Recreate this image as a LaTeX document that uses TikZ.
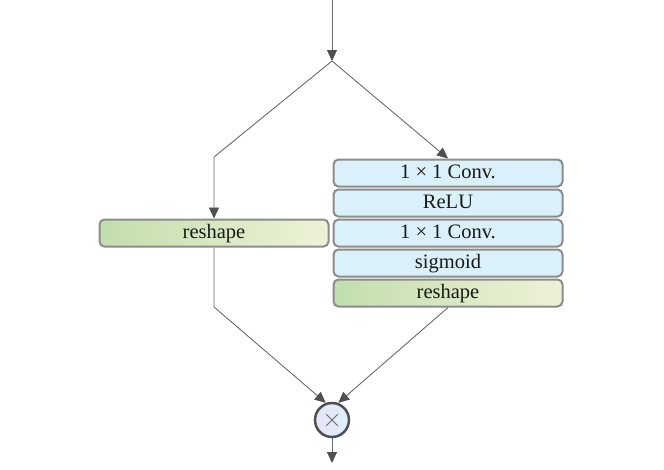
\documentclass[tikz,border=0pt]{standalone}
\usepackage{fontspec}
\setmainfont{Liberation Serif}
\usetikzlibrary{arrows.meta}
\definecolor{linec}{HTML}{6A6A6A}
\definecolor{tipc}{HTML}{505050}
\definecolor{boxborder}{HTML}{8C8C8C}
\definecolor{bluefill}{HTML}{DAF0FA}
\definecolor{greenL}{HTML}{C2DEAC}
\definecolor{greenR}{HTML}{EEF2D8}
\definecolor{circL}{HTML}{E8E4FA}
\definecolor{circR}{HTML}{DDF0FA}
\tikzset{
  layer/.style={draw=boxborder, line width=2pt, rounded corners=5pt,
    minimum width=229pt, minimum height=27pt, inner sep=0pt,
    text height=13pt, text depth=3pt,
    font=\fontsize{20.5}{24}\selectfont, text=black!90},
  bluebox/.style={layer, fill=bluefill},
  greenbox/.style={layer, left color=greenL, right color=greenR},
  conn/.style={draw=linec, line width=0.9pt,
    -{Triangle[length=11pt,width=10pt,fill=tipc,color=tipc]}},
  mulnode/.style={circle, draw=tipc, line width=2.5pt, minimum size=34pt, inner sep=0pt,
    left color=circL, right color=circR},
}
\begin{document}
\begin{tikzpicture}[x=1pt,y=-1pt]
\useasboundingbox (0,0) rectangle (664,469);
\node[greenbox] (lr) at (214,233) {reshape};
\node[bluebox] (b1) at (448,173) {1 × 1 Conv.};
\node[bluebox] (b2) at (448,203) {ReLU};
\node[bluebox] (b3) at (448,233) {1 × 1 Conv.};
\node[bluebox] (b4) at (448,263) {sigmoid};
\node[greenbox] (b5) at (448,293) {reshape};
\node[mulnode] (mul) at (332,420) {};
\draw[linec, line width=1pt] ([shift={(-6,-6)}]mul.center) -- ([shift={(6,6)}]mul.center)
  ([shift={(-6,6)}]mul.center) -- ([shift={(6,-6)}]mul.center);
\coordinate (in) at (332,0);
\coordinate (split) at (332,61);
\coordinate (lbend) at (214,157);
\coordinate (lbend2) at (214,307);
\coordinate (out) at (332,463);
\draw[conn] (in) -- (split);
\draw[conn] (split) -- (lbend) -- (lr.north);
\draw[conn] (split) -- (b1.north);
\draw[conn] (lr.south) -- (lbend2) -- (mul.110);
\draw[conn] (b5.south) -- (mul.70);
\draw[conn] (mul.south) -- (out);
\end{tikzpicture}
\end{document}
